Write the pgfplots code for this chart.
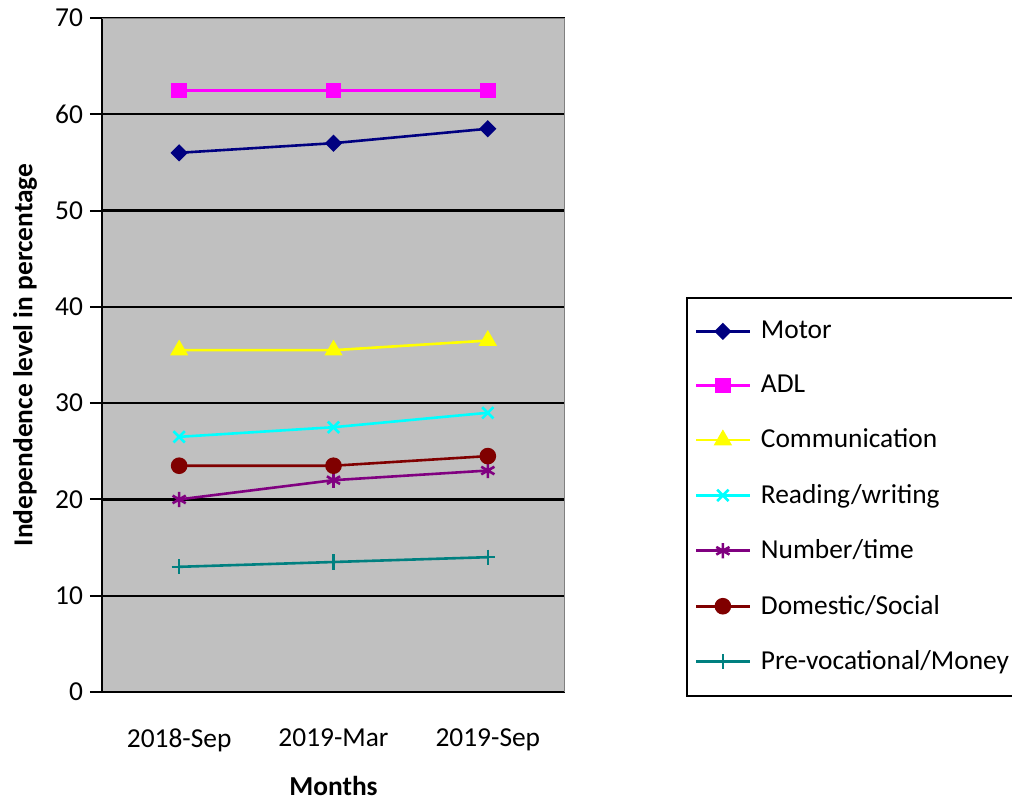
\documentclass[border=0pt]{standalone}
\usepackage{pgfplots}
\pgfplotsset{compat=1.18}
\usepackage{fontspec}
\setmainfont{Carlito}
\definecolor{cmotor}{RGB}{0,0,128}
\definecolor{cadl}{RGB}{255,0,255}
\definecolor{ccomm}{RGB}{255,255,0}
\definecolor{cread}{RGB}{0,255,255}
\definecolor{cnum}{RGB}{128,0,128}
\definecolor{cdom}{RGB}{128,0,0}
\definecolor{cpre}{RGB}{0,128,128}
\definecolor{plotbg}{RGB}{192,192,192}
\begin{document}
\begin{tikzpicture}
\useasboundingbox (0,0) rectangle (506pt,400.5pt);
\begin{axis}[
  at={(51pt,54.5pt)}, anchor=south west,
  scale only axis, width=231.5pt, height=337pt,
  xmin=0, xmax=3, ymin=0, ymax=70,
  axis background/.style={fill=plotbg},
  axis x line*=bottom, axis y line*=left,
  axis line style={black, line width=1.2pt, -},
  xtick={0.5,1.5,2.5},
  xticklabels={2018-Sep,2019-Mar,2019-Sep},
  major x tick style={draw=none},
  extra x ticks={0,1,2,3},
  extra x tick labels={},
  extra x tick style={major tick length=8pt, tick style={black, line width=1pt}, tick align=outside, grid=none},
  ytick={0,10,...,70},
  ymajorgrids, grid style={black, line width=1.1pt},
  major tick length=6pt,
  tick align=outside,
  ytick style={black, line width=1pt},
  tick label style={font=\fontsize{13.7}{15}\selectfont},
  xticklabel style={yshift=-9pt},
  /pgf/number format/assume math mode=true,
  xlabel={\textbf{Months}},
  ylabel={\textbf{Independence level in percentage}},
  label style={font=\fontsize{13.7}{15}\selectfont},
  xlabel style={at={(axis description cs:0.5,-0.1395)}, anchor=center},
  ylabel style={at={(axis description cs:-0.1663,0.5)}, anchor=center},
  legend cell align=left,
  legend style={at={(axis description cs:1.261,0.586)}, anchor=north west,
     draw=black, line width=1pt, font=\fontsize{13.7}{15}\selectfont,
     inner xsep=4pt, inner ysep=9.5pt, row sep=12.7pt,
     nodes={inner xsep=5pt}},
  legend image code/.code={
    \draw[mark repeat=2,mark phase=2,#1] plot coordinates {(0cm,0cm)(0.47cm,0cm)(0.94cm,0cm)};},
  every axis plot/.append style={line width=1.3pt},
]
\addplot[cmotor, mark=square*, mark size=2.4pt, mark options={rotate=45, solid}] coordinates {(0.5,56) (1.5,57) (2.5,58.5)};
\addlegendentry{Motor}
\addplot[cadl, mark=square*, mark size=3.2pt] coordinates {(0.5,62.5) (1.5,62.5) (2.5,62.5)};
\addlegendentry{ADL}
\addplot[ccomm, mark=triangle*, mark size=4pt] coordinates {(0.5,35.5) (1.5,35.5) (2.5,36.5)};
\addlegendentry{Communication}
\addplot[cread, mark=x, mark size=4pt, mark options={line width=1.3pt}] coordinates {(0.5,26.5) (1.5,27.5) (2.5,29)};
\addlegendentry{Reading/writing}
\addplot[cnum, mark=asterisk, mark size=3.8pt, mark options={line width=1.3pt}] coordinates {(0.5,20) (1.5,22) (2.5,23)};
\addlegendentry{Number/time}
\addplot[cdom, mark=*, mark size=3.5pt] coordinates {(0.5,23.5) (1.5,23.5) (2.5,24.5)};
\addlegendentry{Domestic/Social}
\addplot[cpre, mark=+, mark size=3.8pt, mark options={line width=1.1pt}] coordinates {(0.5,13) (1.5,13.5) (2.5,14)};
\addlegendentry{Pre-vocational/Money}
\draw[gray, line width=1pt] (rel axis cs:0,1) -- (rel axis cs:1,1) -- (rel axis cs:1,0);
\end{axis}
\end{tikzpicture}
\end{document}
